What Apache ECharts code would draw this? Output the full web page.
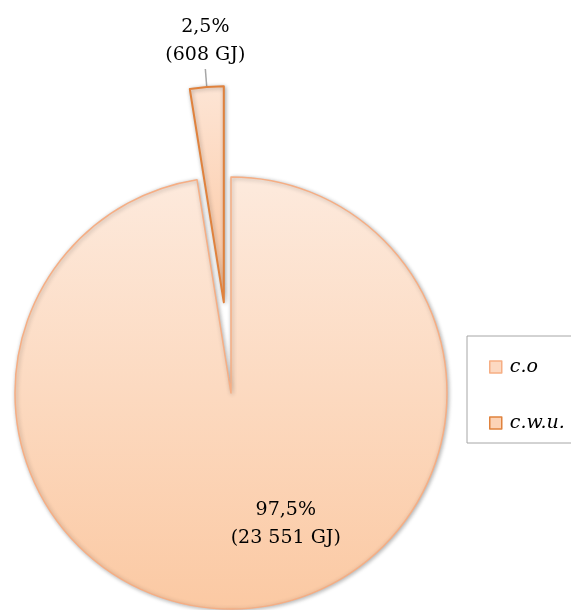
<!DOCTYPE html>
<html>
<head>
<meta charset="utf-8">
<script src="https://cdn.jsdelivr.net/npm/echarts@6/dist/echarts.min.js"></script>
<style>
html,body{margin:0;padding:0;background:#fff;}
#chart{width:571px;height:610px;}
</style>
</head>
<body>
<div id="chart"></div>
<script>
const categories = ['c.o', 'c.w.u.'];
const values = [23551, 608];
const percentLabels = ['97,5%', '2,5%'];
const valueLabels = ['(23 551 GJ)', '(608 GJ)'];

const FONT = 'DejaVu Serif';
const chart = echarts.init(document.getElementById('chart'), null, {renderer: 'canvas'});

const fills = [
  new echarts.graphic.LinearGradient(0, 0, 0, 1, [
    {offset: 0, color: '#fdeadd'},
    {offset: 1, color: '#fbc9a3'}
  ]),
  new echarts.graphic.LinearGradient(0, 0, 0, 1, [
    {offset: 0, color: '#fde5d5'},
    {offset: 1, color: '#fcc6a0'}
  ])
];
const borders = ['#f6ae84', '#e0823d'];
const borderWidths = [1.5, 2];
const legendFills = ['#fcd9c2', '#fcd3b6'];

const shadow = {shadowBlur: 4, shadowColor: 'rgba(0,0,0,0.3)', shadowOffsetX: 1, shadowOffsetY: 1};

const data = categories.map((name, i) => {
  const style = Object.assign({color: fills[i], borderColor: borders[i], borderWidth: borderWidths[i]}, shadow);
  return {
    name: name,
    value: values[i],
    selected: i === 1,
    itemStyle: style,
    select: {itemStyle: style},
    label: {
      position: i === 0 ? 'inside' : 'outside'
    },
    labelLine: {show: i === 1}
  };
});

chart.setOption({
  animation: false,
  legend: {
    orient: 'vertical',
    left: 467,
    top: 336,
    padding: [21, 60, 10, 22],
    itemGap: 36,
    itemWidth: 12,
    itemHeight: 12,
    borderColor: '#a6a6a6',
    borderWidth: 1,
    icon: 'rect',
    textStyle: {fontFamily: FONT, fontStyle: 'italic', fontSize: 19, color: '#000', lineHeight: 20, padding: [0, 0, 0, 3]},
    data: categories.map((name, i) => ({
      name: name,
      itemStyle: {color: legendFills[i], borderColor: borders[i], borderWidth: 1.5}
    }))
  },
  series: [{
    type: 'pie',
    center: [231, 393],
    radius: 216,
    startAngle: 90,
    clockwise: true,
    selectedMode: 'single',
    selectedOffset: 91,
    avoidLabelOverlap: false,
    emphasis: {disabled: true},
    label: {
      fontFamily: FONT,
      fontSize: 19,
      lineHeight: 28,
      color: '#000',
      formatter: p => percentLabels[p.dataIndex] + '\n' + valueLabels[p.dataIndex]
    },
    labelLine: {length: 18, length2: 0, lineStyle: {color: '#a6a6a6', width: 1.5}},
    labelLayout: function (p) {
      if (p.dataIndex === 0) return {dx: 46, dy: 20};
      return {align: 'center', verticalAlign: 'bottom', dx: 5};
    },
    data: data
  }]
});
</script>
</body>
</html>
